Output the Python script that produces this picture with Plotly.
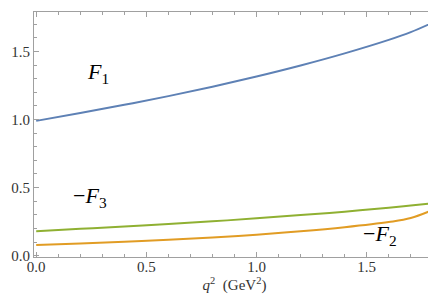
import plotly.graph_objects as go

q2 = [0.0, 0.2, 0.4, 0.6, 0.8, 1.0, 1.2, 1.4, 1.6, 1.7, 1.8]
F1 = [0.99, 1.048, 1.108, 1.172, 1.241, 1.316, 1.397, 1.486, 1.585, 1.642, 1.712]
mF3 = [0.18, 0.197, 0.214, 0.232, 0.252, 0.274, 0.298, 0.323, 0.352, 0.368, 0.386]
mF2 = [0.079, 0.09, 0.102, 0.116, 0.133, 0.154, 0.179, 0.209, 0.247, 0.276, 0.336]

xticks = [0.0, 0.5, 1.0, 1.5]
xticklabels = ["0.0", "0.5", "1.0", "1.5"]
yticks = [0.0, 0.5, 1.0, 1.5]
yticklabels = ["0.0", "0.5", "1.0", "1.5"]

labels = [
    ("<i>F</i><sub>1</sub>", 0.28, 1.34),
    ("−<i>F</i><sub>3</sub>", 0.245, 0.43),
    ("−<i>F</i><sub>2</sub>", 1.56, 0.15),
]

SERIF = "Liberation Serif"

fig = go.Figure()
for y, c in [(F1, "#5E81B5"), (mF2, "#E19C24"), (mF3, "#8FB032")]:
    fig.add_trace(go.Scatter(x=q2, y=y, mode="lines", line=dict(color=c, width=2, shape="spline", smoothing=1.0),
                             showlegend=False, hoverinfo="skip"))

for txt, x, y in labels:
    fig.add_annotation(x=x, y=y, text=txt, showarrow=False,
                       font=dict(family=SERIF, size=22, color="#000"))

axis_common = dict(
    showgrid=False, zeroline=False, showline=True, linecolor="#A0A0A0", linewidth=1,
    mirror="allticks", ticks="inside", ticklen=5, tickcolor="#A0A0A0", tickwidth=1,
    tickfont=dict(family=SERIF, size=15, color="#333"), automargin=False,
    minor=dict(ticks="inside", ticklen=3, tickcolor="#A0A0A0", dtick=0.1, showgrid=False),
)

fig.update_xaxes(range=[-0.01, 1.81], tickvals=xticks, ticktext=xticklabels, ticklabelstandoff=-4,
                 title=dict(text="<i>q</i><sup>2</sup>  (GeV<sup>2</sup>)",
                            font=dict(family=SERIF, size=15, color="#333"), standoff=0),
                 **axis_common)
fig.update_yaxes(range=[-0.01, 1.79], tickvals=yticks, ticktext=yticklabels, ticklabelstandoff=0,
                 **axis_common)

fig.update_layout(width=436, height=296, margin=dict(l=26, r=9, t=4, b=47),
                  font=dict(family=SERIF),
                  plot_bgcolor="white", paper_bgcolor="white")
fig.write_html("out.html")
